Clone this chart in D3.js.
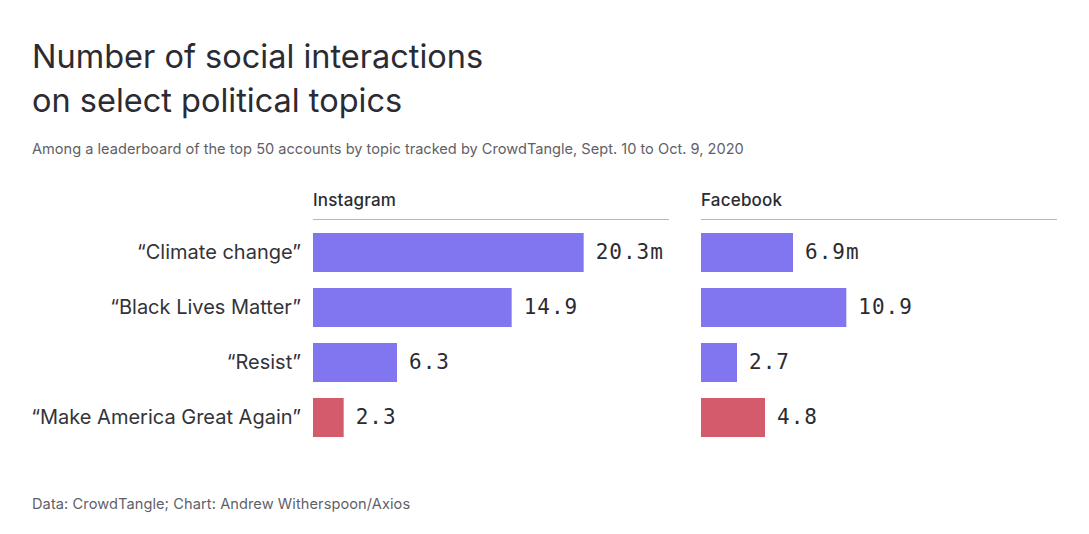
<!DOCTYPE html>
<html>
<head>
<meta charset="utf-8">
<script src="https://cdn.jsdelivr.net/npm/d3@7"></script>
<style>
  html, body { margin: 0; padding: 0; background: #fff; }
  text { font-family: Inter, sans-serif; }
  .title { font-size: 32.5px; fill: #2b2b33; }
  .subtitle { font-size: 14.6px; fill: #5f5f68; }
  .source { font-size: 14.6px; fill: #5f5f68; letter-spacing: 0.08px; }
  .panel-title { font-size: 17px; font-weight: 500; fill: #2b2b33; letter-spacing: 0.2px; }
  .axis--y text { font-size: 20px; fill: #333339; }
  .value { font-family: "DejaVu Sans Mono", monospace; font-size: 21px; fill: #2b2b33; letter-spacing: 1px; }
</style>
</head>
<body>
<svg id="chart"></svg>
<script>
const topics = ['“Climate change”', '“Black Lives Matter”', '“Resist”', '“Make America Great Again”'];
const instagram = [20.3, 14.9, 6.3, 2.3];
const facebook = [6.9, 10.9, 2.7, 4.8];
const valueLabels = {
  Instagram: ['20.3m', '14.9', '6.3', '2.3'],
  Facebook: ['6.9m', '10.9', '2.7', '4.8']
};
const topicColors = ['#8176ef', '#8176ef', '#8176ef', '#d35b6b'];

const width = 1089;
const height = 534;
const panelWidth = 356;

const svg = d3.select('#chart')
  .attr('width', width)
  .attr('height', height)
  .style('display', 'block');

svg.append('text').attr('class', 'title').attr('x', 32).attr('y', 68)
  .text('Number of social interactions');
svg.append('text').attr('class', 'title').attr('x', 32).attr('y', 112)
  .text('on select political topics');
svg.append('text').attr('class', 'subtitle').attr('x', 32).attr('y', 154)
  .text('Among a leaderboard of the top 50 accounts by topic tracked by CrowdTangle, Sept. 10 to Oct. 9, 2020');
svg.append('text').attr('class', 'source').attr('x', 32).attr('y', 509)
  .text('Data: CrowdTangle; Chart: Andrew Witherspoon/Axios');

const xScale = d3.scaleLinear().domain([0, 26.7]).range([0, panelWidth]);
const yScale = d3.scaleBand().domain(topics).range([225, 445]).paddingInner(16 / 55).paddingOuter(8 / 55);

const yAxis = svg.append('g')
  .attr('class', 'axis axis--y')
  .attr('transform', 'translate(313, 0)')
  .call(d3.axisLeft(yScale).tickSize(0).tickPadding(12));
yAxis.select('.domain').remove();

function drawPanel(name, values, left) {
  const g = svg.append('g').attr('transform', `translate(${left}, 0)`);

  g.append('text').attr('class', 'panel-title').attr('x', 0).attr('y', 206).text(name);
  g.append('line')
    .attr('x1', 0).attr('x2', panelWidth)
    .attr('y1', 219.5).attr('y2', 219.5)
    .attr('stroke', '#b8b8b8')
    .attr('stroke-width', 1);

  g.selectAll('rect')
    .data(values)
    .join('rect')
    .attr('x', 0)
    .attr('y', (d, i) => yScale(topics[i]))
    .attr('width', d => xScale(d))
    .attr('height', yScale.bandwidth())
    .attr('fill', (d, i) => topicColors[i]);

  g.selectAll('.value')
    .data(values)
    .join('text')
    .attr('class', 'value')
    .attr('x', d => xScale(d) + 12)
    .attr('y', (d, i) => yScale(topics[i]) + yScale.bandwidth() / 2)
    .attr('dy', '0.32em')
    .text((d, i) => valueLabels[name][i]);
}

drawPanel('Instagram', instagram, 313);
drawPanel('Facebook', facebook, 701);
</script>
</body>
</html>
